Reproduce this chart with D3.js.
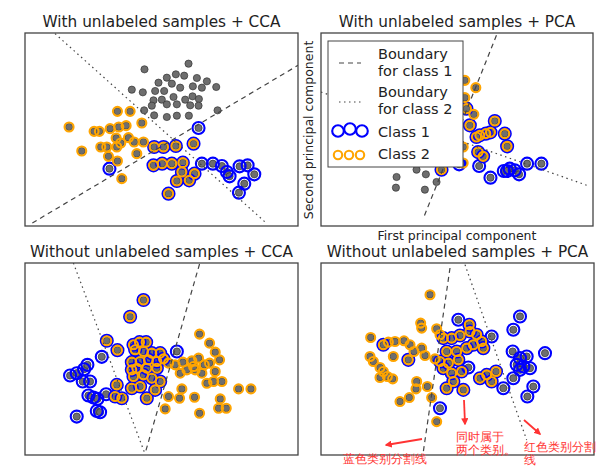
<!DOCTYPE html>
<html>
<head>
<meta charset="utf-8">
<script src="https://cdn.jsdelivr.net/npm/d3@7"></script>
<style>
  body { margin: 0; background: #fff; }
  text { font-family: "DejaVu Sans", sans-serif; fill: #222; }
</style>
</head>
<body>
<svg id="chart" width="600" height="469"></svg>
<script>

// ---- data ----
const titles = [
    "With unlabeled samples + CCA",
    "With unlabeled samples + PCA",
    "Without unlabeled samples + CCA",
    "Without unlabeled samples + PCA"
];

// [x, y, type]  type: 0 unlabeled, 1 class 1, 2 class 2, 3 both classes
const tlPoints = [
    [4.33,4.93,0],[5.65,5.10,0],[5.00,4.68,0],[5.27,4.78,0],[5.52,4.74,0],[5.90,4.67,0],[6.20,4.57,0],
    [4.75,4.53,0],[5.15,4.50,0],[5.40,4.38,0],[5.78,4.42,0],[6.05,4.38,0],[6.48,4.40,0],[3.95,4.32,0],
    [4.28,4.24,0],[4.65,4.28,0],[4.92,4.28,0],[5.20,4.10,0],[5.55,4.02,0],[5.77,4.12,0],[5.96,4.04,0],
    [4.60,4.00,0],[4.85,4.02,0],[4.55,3.84,0],[5.00,3.88,0],[5.30,3.88,0],[5.70,3.85,0],[5.95,3.84,0],
    [4.32,3.70,0],[4.62,3.55,0],[5.00,3.50,0],[5.30,3.54,0],[5.66,3.54,0],[6.52,3.70,0],
    [3.52,3.67,2],[3.90,3.67,2],[2.07,3.20,2],[2.82,3.07,2],[2.98,3.07,2],[3.30,3.15,2],[3.56,3.20,2],
    [3.78,3.24,2],[4.25,3.32,2],[3.48,2.87,2],[3.85,2.88,2],[3.02,2.60,2],[3.20,2.60,2],[3.50,2.60,2],
    [3.62,2.72,2],[4.02,2.75,2],[4.30,2.75,2],[2.45,2.48,2],[3.25,2.32,2],[4.10,2.40,2],[3.52,2.18,2],
    [3.65,1.65,2],
    [3.28,1.95,1],[5.95,3.17,1],[6.05,2.10,1],[6.38,2.10,1],[6.65,2.03,1],[6.80,1.85,1],[6.88,1.72,1],
    [7.18,2.02,1],[7.42,2.05,1],[7.62,1.78,1],[7.32,1.50,1],[7.16,1.23,1],
    [4.62,2.60,3],[4.90,2.60,3],[5.27,2.63,3],[5.80,2.70,3],[4.60,2.05,3],[4.86,2.10,3],[5.15,2.10,3],
    [5.48,2.13,3],[5.45,1.85,3],[5.83,1.80,3],[5.30,1.58,3],[5.67,1.60,3],[5.05,1.20,3]
];

const trPoints = [
    [2.90,1.70,0],[3.50,1.92,0],[3.78,1.78,0],[4.10,1.55,0],[2.88,1.38,0],[3.75,1.32,0],
    [3.20,2.60,0],[3.60,2.90,0],[4.00,2.40,0],[2.60,2.20,0],
    [4.95,4.60,2],[5.28,4.38,2],[4.95,4.08,2],[5.22,3.58,2],[4.90,2.60,2],[4.90,2.12,2],
    [5.38,2.03,1],[5.72,1.68,1],[6.12,1.88,1],[6.30,1.95,1],[6.45,1.90,1],[6.58,1.78,1],[6.82,2.10,1],
    [7.25,2.10,1],[4.78,2.08,1],[6.22,1.88,1],
    [5.10,3.25,3],[5.40,2.95,3],[5.58,3.00,3],[5.72,3.04,3],[5.30,2.90,3],[6.15,3.00,3],[6.22,2.62,3],
    [5.35,2.45,3],[5.50,2.32,3],[5.00,3.75,3],[5.85,3.38,3],[4.25,1.92,3]
];

const blPoints = [
    [4.30,5.04,3],[3.90,4.54,3],[3.20,3.82,3],[3.52,3.54,3],[4.00,3.70,3],[4.18,3.78,3],[4.38,3.78,3],
    [4.05,3.55,3],[4.30,3.50,3],[4.55,3.45,3],[4.80,3.45,3],[3.95,3.18,3],[4.20,3.20,3],[4.45,3.25,3],
    [4.70,3.20,3],[4.90,3.28,3],[3.50,2.50,3],[3.45,2.15,3],[3.65,2.10,3],[3.95,2.40,3],[4.20,2.45,3],
    [4.40,2.10,3],[4.55,2.70,3],[4.80,2.60,3],[4.65,2.35,3],[4.00,2.75,3],[4.30,2.80,3],[4.10,3.00,3],
    [4.40,3.00,3],[4.70,3.00,3],[3.95,2.95,3],
    [5.30,3.50,1],[3.05,3.34,1],[2.10,2.78,1],[2.30,2.85,1],[2.52,2.97,1],[2.62,3.10,1],[2.70,2.60,1],
    [2.48,2.60,1],[2.80,2.12,1],[2.65,2.18,1],[2.92,2.08,1],[3.18,2.22,1],[2.90,1.72,1],[3.00,1.68,1],
    [2.30,1.55,1],
    [5.98,4.02,2],[6.28,3.75,2],[6.45,3.48,2],[6.58,3.25,2],[5.05,3.15,2],[5.25,3.10,2],[5.48,3.18,2],
    [5.75,3.22,2],[5.95,3.30,2],[6.12,3.10,2],[6.28,3.15,2],[6.45,2.90,2],[5.60,2.95,2],[5.85,2.95,2],
    [6.05,2.85,2],[6.20,2.55,2],[6.40,2.60,2],[6.65,2.60,2],[5.45,2.38,2],[5.05,2.15,2],[5.38,2.10,2],
    [5.83,2.13,2],[4.95,1.78,2],[5.98,1.65,2],[6.60,2.08,2],[6.55,1.80,2],[6.78,1.80,2],[7.15,2.38,2],
    [7.52,2.38,2],[5.80,3.05,2],[5.40,2.85,2]
];

const brPoints = [
    [3.90,5.20,2],[3.62,4.35,2],[3.65,4.20,2],[4.10,4.18,2],[4.20,4.00,2],[2.12,3.92,2],[2.65,3.78,2],
    [2.85,3.80,2],[3.12,3.82,2],[3.30,3.70,2],[2.10,3.35,2],[2.20,3.20,2],[2.40,3.02,2],[2.50,2.90,2],
    [2.62,2.75,2],[2.40,2.72,2],[2.78,2.68,2],[3.65,3.60,2],[3.42,3.50,2],[2.80,3.35,2],[3.50,2.60,2],
    [3.82,2.45,2],[3.48,2.38,2],[3.28,2.12,2],[3.00,2.00,2],[3.95,2.12,2],[4.10,1.40,2],[3.75,3.38,2],
    [4.05,3.28,2],
    [4.75,4.45,1],[6.60,4.55,1],[6.40,4.15,1],[5.75,3.95,1],[6.38,3.50,1],[6.60,3.30,1],[6.80,3.35,1],
    [7.35,3.45,1],[6.50,3.10,1],[6.70,3.05,1],[6.90,3.00,1],[6.60,2.95,1],[6.40,2.70,1],[6.10,2.40,1],
    [7.00,2.45,1],[6.82,2.15,1],[4.20,1.80,1],[5.05,3.02,1],
    [4.30,3.90,3],[4.55,3.90,3],[4.80,3.98,3],[5.08,4.30,3],[5.10,4.10,3],[5.30,4.00,3],[5.45,3.80,3],
    [5.20,3.70,3],[5.50,3.60,3],[5.00,3.60,3],[4.40,3.50,3],[4.70,3.50,3],[4.20,3.20,3],[4.45,3.15,3],
    [4.75,3.25,3],[4.30,3.00,3],[4.55,2.85,3],[4.85,2.90,3],[4.40,2.40,3],[4.90,2.35,3],[5.40,2.70,3],
    [5.75,2.60,3],[5.88,2.90,3],[5.60,2.80,3],[2.50,3.70,3],[3.25,3.25,3],[4.60,2.60,3]
];

// boundary lines: [start, end] for class 1 (dashed) and class 2 (dash-dot)
const tlBoundary1 = [[0.97,0.32],[8.93,5.05]];
const tlBoundary2 = [[1.65,6.00],[8.00,0.30]];
const trBoundary1 = [[5.90,5.95],[3.70,0.45]];
const trBoundary2 = [[0.63,4.25],[8.62,1.45]];
const blBoundary1 = [[5.98,6.12],[4.35,0.45]];
const blBoundary2 = [[2.20,6.15],[4.32,0.50]];
const brBoundary1 = [[4.50,6.00],[3.70,0.50]];
const brBoundary2 = [[4.95,6.10],[6.80,0.85]];

const legendLabels = [["Boundary", "for class 1"], ["Boundary", "for class 2"], ["Class 1"], ["Class 2"]];

// ---- layout ----
const panels = [
    {title: titles[0], points: tlPoints, b1: tlBoundary1, b2: tlBoundary2,
     left: 25, right: 298, top: 33, bottom: 226, xd: [0.75, 8.93], yd: [0.23, 6.02], ty: 27},
    {title: titles[1], points: trPoints, b1: trBoundary1, b2: trBoundary2,
     left: 321, right: 593, top: 33, bottom: 226, xd: [0.63, 8.80], yd: [0.23, 6.02], ty: 27},
    {title: titles[2], points: blPoints, b1: blBoundary1, b2: blBoundary2,
     left: 25, right: 298, top: 263, bottom: 455, xd: [0.75, 8.93], yd: [0.40, 6.15], ty: 257},
    {title: titles[3], points: brPoints, b1: brBoundary1, b2: brBoundary2,
     left: 321, right: 594, top: 263, bottom: 455, xd: [0.63, 8.82], yd: [0.40, 6.15], ty: 257}
];

const svg = d3.select("#chart");
const defs = svg.append("defs");

defs.append("marker")
    .attr("id", "redhead")
    .attr("viewBox", "0 0 10 10")
    .attr("refX", 8).attr("refY", 5)
    .attr("markerWidth", 4).attr("markerHeight", 4)
    .attr("orient", "auto")
  .append("path")
    .attr("d", "M0,0 L10,5 L0,10 z")
    .attr("fill", "#f33");

const BLUE = "#0000ff", ORANGE = "#ffa500";

panels.forEach((p, i) => {
    let x = d3.scaleLinear().domain(p.xd).range([p.left, p.right]);
    let y = d3.scaleLinear().domain(p.yd).range([p.bottom, p.top]);

    defs.append("clipPath").attr("id", "clip" + i)
      .append("rect")
        .attr("x", p.left).attr("y", p.top)
        .attr("width", p.right - p.left).attr("height", p.bottom - p.top);

    let g = svg.append("g").attr("clip-path", "url(#clip" + i + ")");

    g.selectAll(".dot").data(p.points).enter().append("circle")
        .attr("cx", d => x(d[0])).attr("cy", d => y(d[1]))
        .attr("r", 3.6)
        .attr("fill", "#6e6e6e").attr("stroke", "#333").attr("stroke-width", 0.7);

    g.selectAll(".c1").data(p.points.filter(d => d[2] === 1 || d[2] === 3)).enter().append("circle")
        .attr("cx", d => x(d[0])).attr("cy", d => y(d[1]))
        .attr("r", 6).attr("fill", "none")
        .attr("stroke", BLUE).attr("stroke-width", 2.1);

    g.selectAll(".c2").data(p.points.filter(d => d[2] === 2 || d[2] === 3)).enter().append("circle")
        .attr("cx", d => x(d[0])).attr("cy", d => y(d[1]))
        .attr("r", 4.5).attr("fill", "none")
        .attr("stroke", ORANGE).attr("stroke-width", 2.1);

    let line = d3.line().x(d => x(d[0])).y(d => y(d[1]));
    g.append("path").attr("d", line(p.b1))
        .attr("fill", "none").attr("stroke", "#444").attr("stroke-width", 1.2)
        .attr("stroke-dasharray", "5,4");
    g.append("path").attr("d", line(p.b2))
        .attr("fill", "none").attr("stroke", "#444").attr("stroke-width", 1.2)
        .attr("stroke-dasharray", "1.5,3.5");

    svg.append("rect")
        .attr("x", p.left).attr("y", p.top)
        .attr("width", p.right - p.left).attr("height", p.bottom - p.top)
        .attr("fill", "none").attr("stroke", "#444").attr("stroke-width", 1.3);

    svg.append("text")
        .attr("x", (p.left + p.right) / 2).attr("y", p.ty)
        .attr("text-anchor", "middle").attr("font-size", 15.3)
        .text(p.title);
});

// axis labels of the PCA panel
svg.append("text")
    .attr("x", 457).attr("y", 240)
    .attr("text-anchor", "middle").attr("font-size", 12.5)
    .text("First principal component");
svg.append("text")
    .attr("transform", "translate(313,130) rotate(-90)")
    .attr("text-anchor", "middle").attr("font-size", 12.5)
    .text("Second principal component");

// legend
let lg = svg.append("g");
lg.append("rect")
    .attr("x", 328).attr("y", 41).attr("width", 135).attr("height", 126)
    .attr("fill", "#fff").attr("stroke", "#444").attr("stroke-width", 1);

let legendRows = [[59, 76], [97, 114], [137], [159]];
legendLabels.forEach((lines, i) => {
    lines.forEach((t, j) => {
        lg.append("text").attr("x", 378).attr("y", legendRows[i][j])
            .attr("font-size", 14.5).text(t);
    });
});
lg.append("line").attr("x1", 339).attr("x2", 361).attr("y1", 63).attr("y2", 63)
    .attr("stroke", "#444").attr("stroke-width", 1.2).attr("stroke-dasharray", "5,4");
lg.append("line").attr("x1", 339).attr("x2", 361).attr("y1", 102).attr("y2", 102)
    .attr("stroke", "#444").attr("stroke-width", 1.2).attr("stroke-dasharray", "1.5,3.5");
[[338, 131], [350, 129], [362, 131]].forEach(c => {
    lg.append("circle").attr("cx", c[0]).attr("cy", c[1]).attr("r", 5.8)
        .attr("fill", "none").attr("stroke", BLUE).attr("stroke-width", 2.1);
});
[[338, 155], [349, 155], [360, 155]].forEach(c => {
    lg.append("circle").attr("cx", c[0]).attr("cy", c[1]).attr("r", 4.2)
        .attr("fill", "none").attr("stroke", ORANGE).attr("stroke-width", 2.1);
});

// red notes on the last panel
const notes = [
    {lines: ["蓝色类别分割线"], x: 343, y: 463, arrow: [[422, 439], [386, 445]]},
    {lines: ["同时属于", "两个类别。"], x: 456, y: 441, arrow: [[464, 400], [465, 424]]},
    {lines: ["红色类别分割", "线"], x: 524, y: 451, arrow: [[524, 420], [540, 434]]}
];
notes.forEach(n => {
    n.lines.forEach((t, j) => {
        svg.append("text").attr("x", n.x).attr("y", n.y + j * 13)
            .attr("font-family", "'Noto Sans CJK SC', sans-serif")
            .attr("font-size", 12).style("fill", "#f33").text(t);
    });
    svg.append("line")
        .attr("x1", n.arrow[0][0]).attr("y1", n.arrow[0][1])
        .attr("x2", n.arrow[1][0]).attr("y2", n.arrow[1][1])
        .attr("stroke", "#f33").attr("stroke-width", 1.8)
        .attr("marker-end", "url(#redhead)");
});

</script>
</body>
</html>
